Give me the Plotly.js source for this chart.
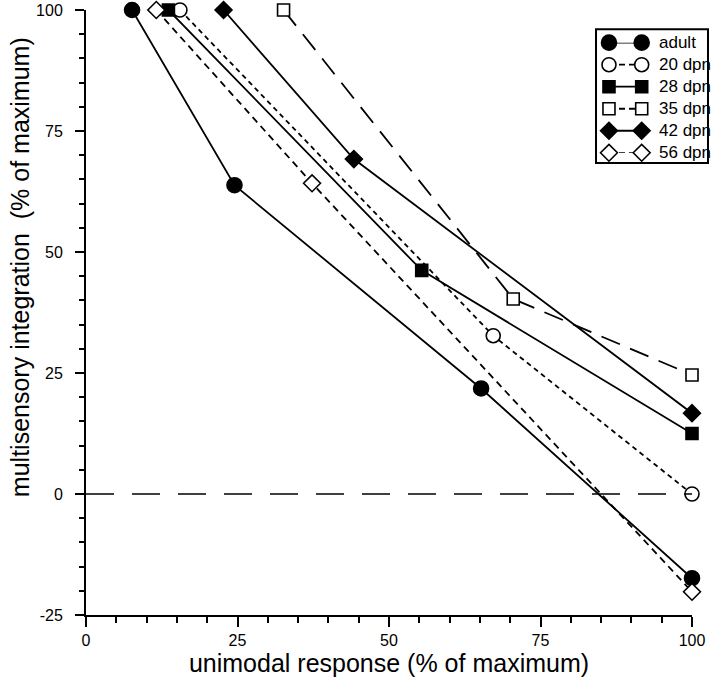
<!DOCTYPE html>
<html>
<head>
<meta charset="utf-8">
<script src="https://cdn.plot.ly/plotly-3.0.1.min.js"></script>
<style>html,body{margin:0;padding:0;background:#fff;}#chart{width:720px;height:689px;}</style>
</head>
<body>
<div id="chart"></div>
<script>
// ---- data ----
const seriesNames = ["adult", "20 dpn", "28 dpn", "35 dpn", "42 dpn", "56 dpn"];
const adultX = [7.6, 24.5, 65.2, 100];
const adultY = [100, 63.8, 21.8, -17.4];
const dpn20X = [15.5, 67.2, 100];
const dpn20Y = [100, 32.7, 0];
const dpn28X = [13.6, 55.4, 100];
const dpn28Y = [100, 46.2, 12.5];
const dpn35X = [32.6, 70.5, 100];
const dpn35Y = [100, 40.3, 24.6];
const dpn42X = [22.7, 44.2, 100];
const dpn42Y = [100, 69.2, 16.7];
const dpn56X = [11.6, 37.3, 100];
const dpn56Y = [100, 64.2, -20.2];
const xTicks = [0, 25, 50, 75, 100];
const yTicks = [-25, 0, 25, 50, 75, 100];
const zeroLineY = 0;

// ---- styles ----
const FONT = '"Liberation Sans", Arial, Helvetica, sans-serif';
const styles = [
  {symbol: 'circle',  fill: 'black', size: 15, dash: 'solid'},
  {symbol: 'circle',  fill: 'white', size: 14, dash: '5px,4px'},
  {symbol: 'square',  fill: 'black', size: 12, dash: 'solid'},
  {symbol: 'square',  fill: 'white', size: 12, dash: '20px,11px'},
  {symbol: 'diamond', fill: 'black', size: 13, dash: 'solid'},
  {symbol: 'diamond', fill: 'white', size: 13, dash: '7px,5px'}
];
const seriesX = [adultX, dpn20X, dpn28X, dpn35X, dpn42X, dpn56X];
const seriesY = [adultY, dpn20Y, dpn28Y, dpn35Y, dpn42Y, dpn56Y];

const traces = [];
seriesNames.forEach((name, i) => {
  const s = styles[i];
  traces.push({
    type: 'scatter', mode: 'lines+markers', name: name,
    x: seriesX[i], y: seriesY[i], cliponaxis: false, showlegend: false,
    line: {color: 'black', width: 1.8, dash: s.dash},
    marker: {symbol: s.symbol, size: s.size, color: s.fill, line: {color: 'black', width: 1.6}}
  });
});

// custom legend (marker - line - marker) on a small hidden axis pair
seriesNames.forEach((name, i) => {
  const s = styles[i];
  traces.push({
    type: 'scatter', mode: 'lines+markers', name: name,
    x: [0, 1], y: [i, i], xaxis: 'x2', yaxis: 'y2', cliponaxis: false, showlegend: false,
    line: {color: 'black', width: 1.8, dash: s.dash === 'solid' ? 'solid' : '6px,4px'},
    marker: {symbol: s.symbol, size: s.size, color: s.fill, line: {color: 'black', width: 1.6}},
    hoverinfo: 'skip'
  });
});

const annotations = seriesNames.map((name, i) => ({
  xref: 'x2', yref: 'y2', x: 1, y: i, xanchor: 'left', yanchor: 'middle',
  xshift: 15, text: name, showarrow: false,
  font: {family: FONT, size: 17, color: 'black'}
}));
annotations.push({
  xref: 'paper', yref: 'paper', x: 0, y: 0.575, xanchor: 'center', yanchor: 'middle',
  xshift: -66, textangle: -90, showarrow: false,
  text: 'multisensory integration&nbsp;&nbsp;(% of maximum)',
  font: {family: FONT, size: 25, color: 'black'}
});

const layout = {
  width: 720, height: 689,
  margin: {l: 86, r: 28, t: 10, b: 74},
  paper_bgcolor: 'white', plot_bgcolor: 'white',
  showlegend: false,
  font: {family: FONT, color: 'black'},
  xaxis: {
    range: [0, 100], tickvals: xTicks, ticktext: xTicks.map(String),
    ticks: 'outside', ticklen: 10, tickwidth: 2, tickcolor: 'black',
    minor: {dtick: 5, ticks: 'outside', ticklen: 6, tickwidth: 2, tickcolor: 'black'},
    showline: true, linewidth: 2, linecolor: 'black', showgrid: false, zeroline: false,
    tickfont: {family: FONT, size: 16, color: 'black'}, ticklabeloverflow: 'allow',
    title: {text: 'unimodal response (% of maximum)', font: {family: FONT, size: 25, color: 'black'}, standoff: 6}
  },
  yaxis: {
    range: [-25, 100], tickvals: yTicks, ticktext: yTicks.map(String),
    ticks: 'outside', ticklen: 9, tickwidth: 2, tickcolor: 'black',
    minor: {dtick: 5, ticks: 'outside', ticklen: 5, tickwidth: 2, tickcolor: 'black'},
    showline: true, linewidth: 2, linecolor: 'black', showgrid: false, zeroline: false,
    tickfont: {family: FONT, size: 16, color: 'black'}, ticklabeloverflow: 'allow',
    ticklabelstandoff: 9
  },
  xaxis2: {domain: [0.863, 0.917], range: [0, 1], anchor: 'y2', visible: false, fixedrange: true},
  yaxis2: {domain: [0.764, 0.946], range: [5, 0], anchor: 'x2', visible: false, fixedrange: true},
  shapes: [
    {type: 'line', xref: 'x', yref: 'y', x0: xTicks[0], x1: xTicks[xTicks.length - 1], y0: zeroLineY, y1: zeroLineY,
     line: {color: 'black', width: 1.6, dash: '28px,18px'}},
    {type: 'rect', xref: 'paper', yref: 'paper', x0: 0.8416, x1: 1.0264, y0: 0.747, y1: 0.968,
     line: {color: 'black', width: 2}, fillcolor: 'rgba(0,0,0,0)'}
  ],
  annotations: annotations
};

Plotly.newPlot('chart', traces, layout, {displayModeBar: false, staticPlot: true});
</script>
</body>
</html>
